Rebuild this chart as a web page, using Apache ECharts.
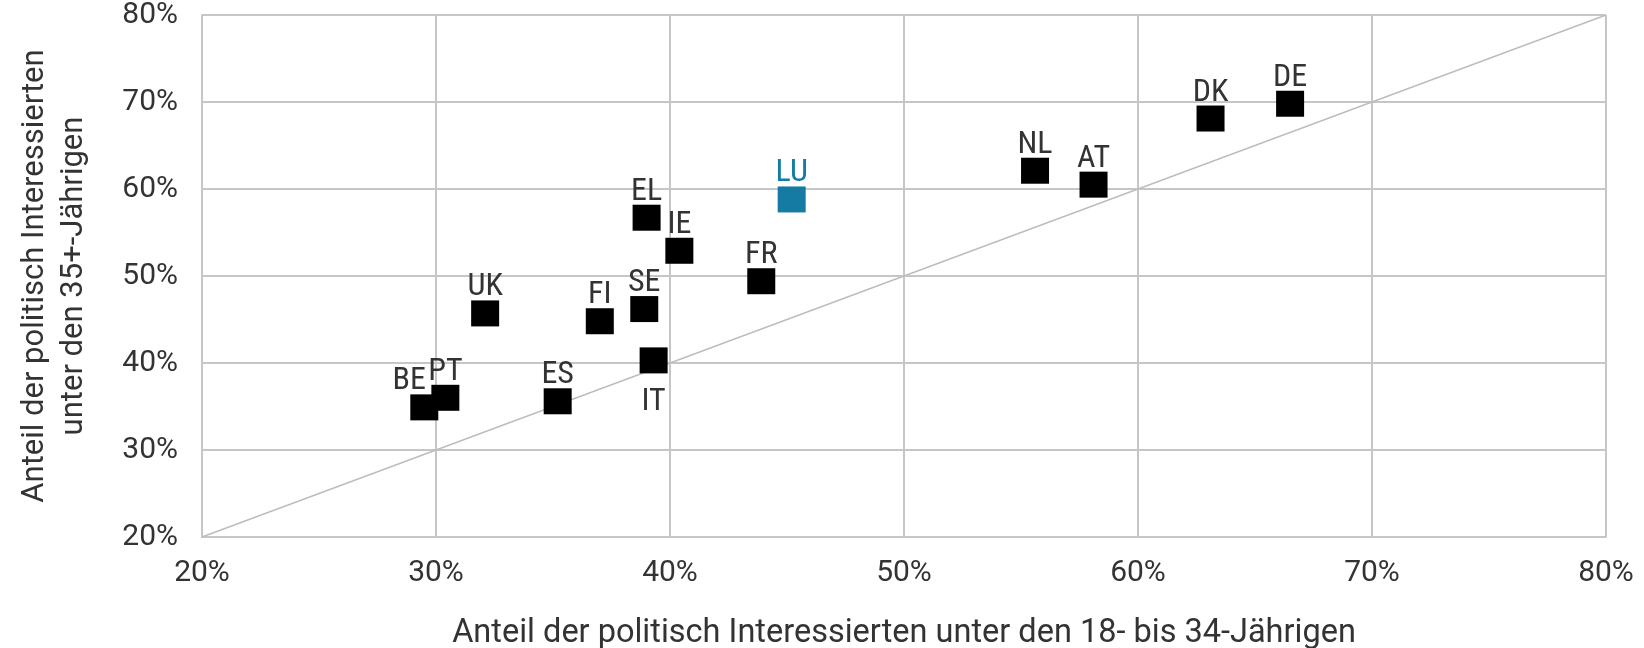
<!DOCTYPE html>
<html>
<head>
<meta charset="utf-8">
<title>Politisches Interesse nach Alter</title>
<script src="https://cdn.jsdelivr.net/npm/echarts@6/dist/echarts.min.js"></script>
<style>
    html, body {margin: 0; padding: 0; background: #fff;}
    #chart {width: 1644px; height: 648px;}
</style>
</head>
<body>
<div id="chart"></div>
<script>
// Länder
const countries = ['BE', 'PT', 'UK', 'ES', 'FI', 'SE', 'IT', 'EL', 'IE', 'FR', 'LU', 'NL', 'AT', 'DK', 'DE'];
// Anteil 18- bis 34-Jährige (x)
const young = [29.5, 30.4, 32.1, 35.2, 37.0, 38.9, 39.3, 39.0, 40.4, 43.9, 45.2, 55.6, 58.1, 63.1, 66.5];
// Anteil 35+-Jährige (y)
const older = [34.9, 36.0, 45.7, 35.6, 44.8, 46.2, 40.3, 56.7, 52.9, 49.4, 58.8, 62.1, 60.5, 68.1, 69.8];
// Diagonale (x = y)
const diagonal = [[20, 20], [80, 80]];
// Achsen
const axisMin = 20;
const axisMax = 80;
const axisStep = 10;

const highlight = 'LU';
const textFont = 'Roboto, "Noto Sans", sans-serif';
const labelFont = '"Roboto Condensed", "DejaVu Sans Condensed", Roboto, sans-serif';
const textColor = '#333';
const gridColor = '#c6c6c6';

const chart = echarts.init(document.getElementById('chart'));

const pointData = countries.map((name, i) => {
    const item = {name, value: [young[i], older[i]]};
    if (name === highlight) {
        item.itemStyle = {color: '#157ba3'};
        item.label = {color: '#157ba3'};
    }
    if (name === 'IT') {
        item.label = {position: 'bottom', distance: 13, offset: [0, 0]};
    }
    if (name === 'BE') {
        item.label = {offset: [-15, 3]};
    }
    return item;
});

const axisCommon = {
    type: 'value',
    min: axisMin,
    max: axisMax,
    interval: axisStep,
    axisLine: {show: true, lineStyle: {color: gridColor, width: 2}},
    axisTick: {show: false},
    splitLine: {show: true, lineStyle: {color: gridColor, width: 2}},
    axisLabel: {
        formatter: '{value}%',
        color: textColor,
        fontFamily: textFont,
        fontSize: 30,
    },
    nameLocation: 'middle',
    nameTextStyle: {color: textColor, fontFamily: textFont, fontSize: 31, lineHeight: 39},
};

const option = {
    animation: false,
    backgroundColor: '#fff',
    grid: {left: 202, right: 38, top: 15, bottom: 111, outerBoundsMode: 'none'},
    xAxis: {
        ...axisCommon,
        name: 'Anteil der politisch Interessierten unter den 18- bis 34-Jährigen',
        nameGap: 77,
        nameTextStyle: {...axisCommon.nameTextStyle, fontSize: 32.5},
        axisLabel: {...axisCommon.axisLabel, margin: 21},
    },
    yAxis: {
        ...axisCommon,
        name: 'Anteil der politisch Interessierten\nunter den 35+-Jährigen',
        nameGap: 108,
        axisLabel: {...axisCommon.axisLabel, margin: 24},
    },
    series: [
        {
            type: 'line',
            data: diagonal,
            silent: true,
            symbol: 'none',
            lineStyle: {color: '#bdbdbd', width: 1.5},
            z: 1,
        },
        {
            type: 'scatter',
            data: pointData,
            symbol: 'rect',
            symbolSize: [28, 26],
            itemStyle: {color: '#000', opacity: 1},
            label: {
                show: true,
                position: 'top',
                distance: 0,
                offset: [0, 3],
                formatter: '{b}',
                color: textColor,
                fontFamily: labelFont,
                fontSize: 32,
            },
            z: 3,
        },
    ],
};

chart.setOption(option);
</script>
</body>
</html>
